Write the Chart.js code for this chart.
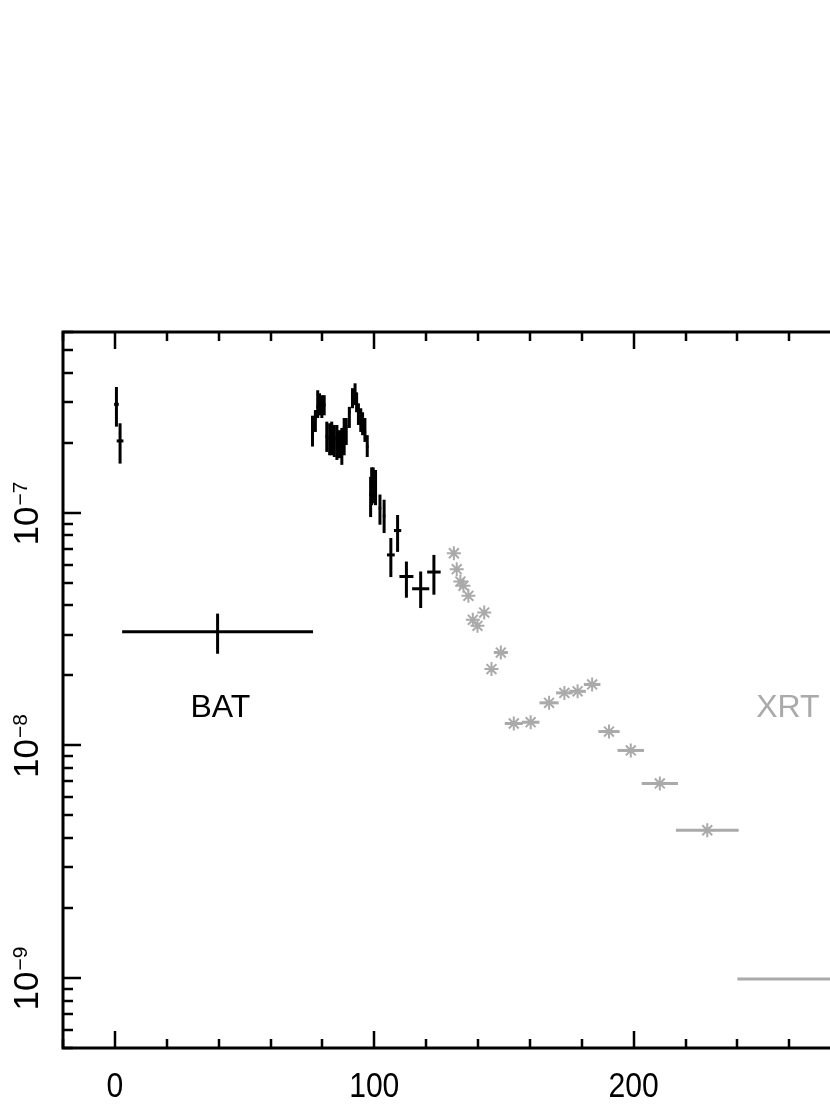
<!DOCTYPE html>
<html>
<head>
<meta charset="utf-8">
<script src="https://cdn.jsdelivr.net/npm/chart.js@4.4.0/dist/chart.umd.min.js"></script>
<style>
    html, body { margin: 0; padding: 0; background: #fff; overflow: hidden; }
    #wrap { width: 902px; height: 1111px; }
</style>
</head>
<body>
<div id="wrap"><canvas id="lc" width="902" height="1111"></canvas></div>
<script>
// BAT light curve (time in s, flux with lower / upper error)
var batTime = [0.6, 2.0, 39.6, 76.2, 77.3, 78.2, 78.9, 79.8, 80.7, 81.7, 82.8, 83.6, 84.6, 85.6, 86.6, 87.5, 88.4, 89.2, 90.4, 91.6, 92.6, 93.2, 93.9, 94.8, 95.5, 96.4, 97.3, 98.6, 99.0, 99.6, 100.5, 102.2, 103.8, 106.4, 109.0, 112.4, 117.9, 123.0];
var batTimeErr = [0.9, 1.3, 36.8, 0.5, 0.5, 0.5, 0.5, 0.5, 0.5, 0.5, 0.5, 0.5, 0.5, 0.5, 0.5, 0.5, 0.5, 0.5, 0.5, 0.5, 0.5, 0.5, 0.5, 0.5, 0.5, 0.5, 0.5, 0.5, 0.5, 0.5, 0.5, 0.5, 0.5, 1.5, 1.4, 2.7, 3.3, 2.6];
var batFlux = [2.93e-7, 2.04e-7, 3.08e-8, 2.23e-7, 2.56e-7, 2.86e-7, 3.00e-7, 2.86e-7, 2.91e-7, 2.13e-7, 2.10e-7, 2.13e-7, 2.10e-7, 2.06e-7, 2.02e-7, 2.06e-7, 2.32e-7, 2.35e-7, 2.72e-7, 3.16e-7, 3.27e-7, 3.00e-7, 2.77e-7, 2.56e-7, 2.43e-7, 2.23e-7, 1.93e-7, 1.20e-7, 1.32e-7, 1.35e-7, 1.28e-7, 1.05e-7, 9.7e-8, 6.6e-8, 8.4e-8, 5.33e-8, 4.72e-8, 5.57e-8];
var batFluxHi = [3.48e-7, 2.43e-7, 3.69e-8, 2.62e-7, 2.77e-7, 3.37e-7, 3.27e-7, 3.21e-7, 3.21e-7, 2.47e-7, 2.43e-7, 2.47e-7, 2.39e-7, 2.39e-7, 2.27e-7, 2.32e-7, 2.56e-7, 2.56e-7, 2.86e-7, 3.44e-7, 3.61e-7, 3.30e-7, 2.96e-7, 2.82e-7, 2.71e-7, 2.56e-7, 2.16e-7, 1.43e-7, 1.57e-7, 1.57e-7, 1.53e-7, 1.20e-7, 1.14e-7, 7.8e-8, 9.8e-8, 6.18e-8, 5.6e-8, 6.6e-8];
var batFluxLo = [2.35e-7, 1.63e-7, 2.48e-8, 1.93e-7, 2.23e-7, 2.56e-7, 2.63e-7, 2.56e-7, 2.63e-7, 1.83e-7, 1.77e-7, 1.77e-7, 1.74e-7, 1.69e-7, 1.72e-7, 1.61e-7, 1.77e-7, 1.96e-7, 2.32e-7, 2.82e-7, 2.91e-7, 2.71e-7, 2.39e-7, 2.23e-7, 2.16e-7, 2.02e-7, 1.74e-7, 9.6e-8, 1.08e-7, 1.10e-7, 1.08e-7, 8.9e-8, 8.2e-8, 5.3e-8, 6.8e-8, 4.32e-8, 3.9e-8, 4.45e-8];

// XRT light curve
var xrtTime = [130.7, 131.8, 133.2, 134.4, 136.3, 138.0, 139.8, 142.4, 145.2, 148.8, 153.8, 160.3, 167.4, 173.3, 178.4, 184.0, 190.5, 198.9, 210.1, 228.4, 290.0];
var xrtTimeErr = [0.4, 0.4, 0.4, 0.4, 0.4, 0.5, 0.5, 0.5, 0.6, 2.7, 3.5, 3.4, 3.7, 3.2, 3.2, 3.2, 4.1, 5.1, 7.0, 12.1, 50.0];
var xrtFlux = [6.71e-8, 5.73e-8, 5.07e-8, 4.86e-8, 4.40e-8, 3.47e-8, 3.27e-8, 3.73e-8, 2.13e-8, 2.51e-8, 1.243e-8, 1.259e-8, 1.525e-8, 1.683e-8, 1.71e-8, 1.83e-8, 1.148e-8, 9.52e-9, 6.87e-9, 4.32e-9, 9.9e-10];

// axis ticks
var xTickValues = [0, 100, 200, 300];
var yTickValues = [1e-9, 1e-8, 1e-7];
var yTickExp = ['\u22129', '\u22128', '\u22127'];

var GREY = '#aaaaaa';
var FONT = '"Liberation Sans", Arial, Helvetica, sans-serif';

function buildPoints(t, terr, f, flo, fhi) {
    var pts = [];
    for (var i = 0; i < t.length; i++) {
        pts.push({ x: t[i], y: f[i], xErr: terr[i], yLo: flo ? flo[i] : null, yHi: fhi ? fhi[i] : null });
    }
    return pts;
}

// error bars, drawn under the markers
var errorBars = {
    id: 'errorBars',
    beforeDatasetsDraw: function(chart) {
        var ctx = chart.ctx, xs = chart.scales.x, ys = chart.scales.y, a = chart.chartArea;
        ctx.save();
        ctx.beginPath();
        ctx.rect(a.left, a.top, a.right - a.left, a.bottom - a.top);
        ctx.clip();
        ctx.lineCap = 'butt';
        chart.data.datasets.forEach(function(ds) {
            ctx.strokeStyle = ds.borderColor;
            ds.data.forEach(function(p) {
                var px = xs.getPixelForValue(p.x), py = ys.getPixelForValue(p.y);
                ctx.lineWidth = ds.errWidth;
                if (p.xErr) {
                    ctx.beginPath();
                    ctx.moveTo(xs.getPixelForValue(p.x - p.xErr), py);
                    ctx.lineTo(xs.getPixelForValue(p.x + p.xErr), py);
                    ctx.stroke();
                }
                if (p.yLo && p.yHi) {
                    ctx.beginPath();
                    ctx.moveTo(px, ys.getPixelForValue(p.yLo));
                    ctx.lineTo(px, ys.getPixelForValue(p.yHi));
                    ctx.stroke();
                }
            });
        });
        ctx.restore();
    }
};

// box, inward ticks and tick labels
var frame = {
    id: 'frame',
    afterDraw: function(chart) {
        var ctx = chart.ctx, xs = chart.scales.x, ys = chart.scales.y, a = chart.chartArea;
        ctx.save();
        ctx.strokeStyle = '#000';
        ctx.fillStyle = '#000';

        ctx.lineWidth = 2.5;
        for (var v = xs.min; v <= xs.max; v += 20) {
            var px = Math.round(xs.getPixelForValue(v));
            var len = (v % 100 === 0) ? 17 : 9;
            ctx.beginPath();
            ctx.moveTo(px, a.bottom); ctx.lineTo(px, a.bottom - len);
            ctx.moveTo(px, a.top); ctx.lineTo(px, a.top + len);
            ctx.stroke();
        }
        for (var e = -10; e <= -6; e++) {
            for (var k = 1; k <= 9; k++) {
                var val = k * Math.pow(10, e);
                if (val < ys.min || val > ys.max) continue;
                var py = Math.round(ys.getPixelForValue(val));
                var l = (k === 1) ? 18 : 10;
                ctx.beginPath();
                ctx.moveTo(a.left, py); ctx.lineTo(a.left + l, py);
                ctx.moveTo(a.right, py); ctx.lineTo(a.right - l, py);
                ctx.stroke();
            }
        }

        ctx.lineWidth = 3;
        ctx.strokeRect(a.left, a.top, a.right - a.left, a.bottom - a.top);

        // x labels, slightly condensed
        ctx.textAlign = 'center';
        ctx.textBaseline = 'alphabetic';
        ctx.font = '35px ' + FONT;
        xTickValues.forEach(function(v) {
            var px = xs.getPixelForValue(v);
            ctx.save();
            ctx.translate(px, 1097);
            ctx.scale(0.86, 1);
            ctx.fillText(String(v), 0, 0);
            ctx.restore();
        });

        // y labels, rotated, 10 with superscript exponent
        yTickValues.forEach(function(v, i) {
            var py = ys.getPixelForValue(v);
            ctx.save();
            ctx.translate(38, py);
            ctx.rotate(-Math.PI / 2);
            ctx.textAlign = 'left';
            ctx.font = '35px ' + FONT;
            var w1 = ctx.measureText('10').width;
            ctx.font = '21px ' + FONT;
            var w2 = ctx.measureText(yTickExp[i]).width;
            var x0 = -(w1 + w2) / 2 - 1;
            ctx.font = '35px ' + FONT;
            ctx.fillText('10', x0, 0);
            ctx.font = '21px ' + FONT;
            ctx.fillText(yTickExp[i], x0 + w1 + 1, -11);
            ctx.restore();
        });

        // instrument labels
        ctx.textAlign = 'center';
        ctx.font = '32px ' + FONT;
        ctx.fillStyle = '#000';
        ctx.fillText('BAT', xs.getPixelForValue(40.7), ys.getPixelForValue(1.32e-8));
        ctx.fillStyle = GREY;
        ctx.fillText('XRT', xs.getPixelForValue(259.5), ys.getPixelForValue(1.32e-8));
        ctx.restore();
    }
};

var ctx = document.getElementById('lc');
var chart = new Chart(ctx, {
    type: 'scatter',
    data: {
        datasets: [{
            label: 'BAT',
            data: buildPoints(batTime, batTimeErr, batFlux, batFluxLo, batFluxHi),
            borderColor: '#000',
            backgroundColor: '#000',
            pointRadius: 0,
            errWidth: 3
        }, {
            label: 'XRT',
            data: buildPoints(xrtTime, xrtTimeErr, xrtFlux, null, null),
            borderColor: GREY,
            backgroundColor: GREY,
            pointStyle: 'star',
            pointRadius: 7,
            borderWidth: 2,
            errWidth: 3
        }]
    },
    options: {
        responsive: false,
        animation: false,
        devicePixelRatio: 1,
        events: [],
        layout: { padding: { top: 332, left: 0, right: 0, bottom: 0 } },
        plugins: { legend: { display: false }, tooltip: { enabled: false } },
        scales: {
            x: {
                type: 'linear', min: -20, max: 300,
                ticks: { display: false }, grid: { display: false }, border: { display: false },
                afterFit: function(s) { s.height = 63; }
            },
            y: {
                type: 'logarithmic', min: 5e-10, max: 6e-7,
                ticks: { display: false }, grid: { display: false }, border: { display: false },
                afterFit: function(s) { s.width = 63; }
            }
        }
    },
    plugins: [errorBars, frame]
});
</script>
</body>
</html>
